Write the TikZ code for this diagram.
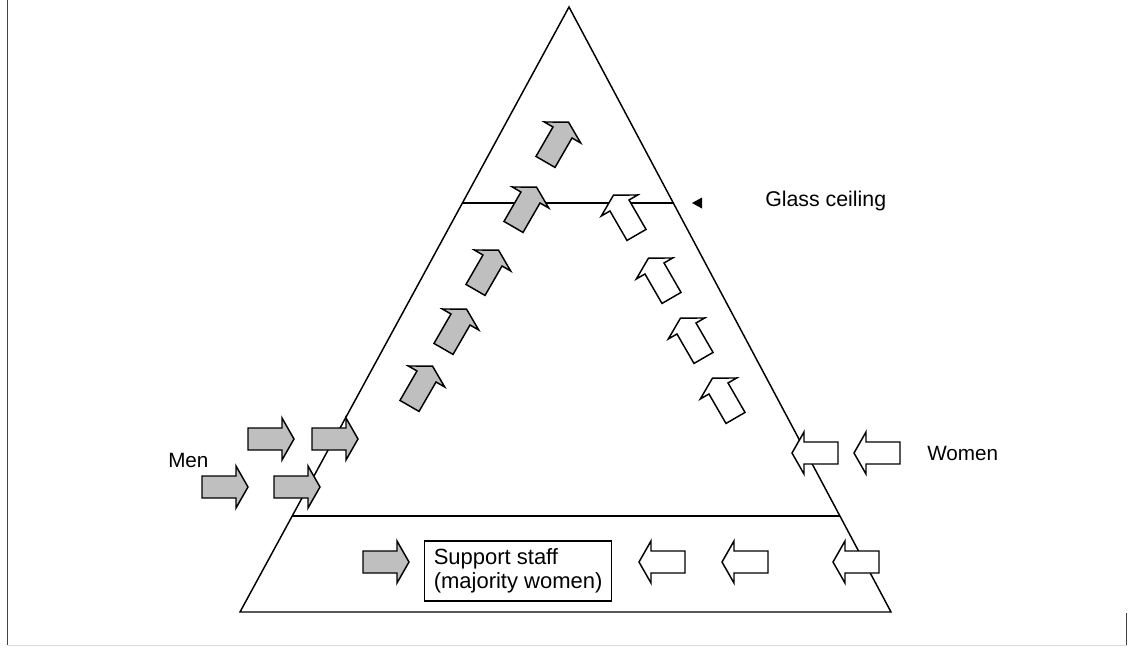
\documentclass[tikz,border=0pt]{standalone}
\usepackage{fontspec}
\setmainfont{Liberation Sans}
\begin{document}
\begin{tikzpicture}[x=0.75pt,y=-0.75pt,
  edge/.style={line width=1.1pt,black},
  lbl/.style={font=\fontsize{15.5}{18.5}\selectfont,inner sep=0pt},
  barrow/.pic={\path[pic actions] (-23,-11) -- (11,-11) -- (11,-21) -- (23,0) -- (11,21) -- (11,11) -- (-23,11) -- cycle;},
  men/.style={draw=black,line width=1.1pt,fill=black!25,line join=miter},
  women/.style={draw=black,line width=1.1pt,fill=white,line join=miter}]
\useasboundingbox (0,0) rectangle (1128,647);
% frame remnants
\draw[line width=1.1pt,black!75] (7.5,0) -- (7.5,645);
\draw[line width=1.1pt,black!75] (1126.5,613) -- (1126.5,645);
\draw[line width=0.8pt,black!15] (7.5,645.5) -- (1126.5,645.5);
% pyramid
\coordinate (apex) at (569,7);
\coordinate (bl) at (240,612);
\coordinate (br) at (891,612);
\coordinate (gl) at (462,203);
\coordinate (gr) at (673,203);
\coordinate (sl) at (292,516);
\coordinate (sr) at (840,516);
\draw[edge,line join=miter] (apex) -- (bl) -- (br) -- cycle;
\draw[edge] (gl) -- (gr);
\draw[edge] (sl) -- (sr);
% glass ceiling marker and label
\fill (692,203) -- (702,197.5) -- (702,208.5) -- cycle;
\node[lbl,font=\fontsize{16}{19}\selectfont,anchor=west] (glass) at (765,201) {Glass ceiling};
\node[lbl,anchor=west] (menlbl) at (168,460) {Men};
\node[lbl,anchor=west] (womenlbl) at (927,453) {Women};
% support staff box
\node[draw,line width=0.9pt,align=left,font=\fontsize{16.5}{18}\selectfont,inner sep=0pt,minimum width=187*0.75pt,minimum height=60*0.75pt,anchor=west] (support) at (424,571) {Support staff\\(majority women)};
% men arrows (horizontal)
\pic[men] at (271,439) {barrow};
\pic[men] at (335,439) {barrow};
\pic[men] at (225,487) {barrow};
\pic[men] at (297,487) {barrow};
\pic[men] at (386,562) {barrow};
% men arrows (diagonal)
\pic[men,rotate=60] at (421,386) {barrow};
\pic[men,rotate=60] at (455,329) {barrow};
\pic[men,rotate=60] at (487,270) {barrow};
\pic[men,rotate=60] at (525,207) {barrow};
\pic[men,rotate=60] at (557,142) {barrow};
% women arrows (horizontal)
\pic[women,rotate=180] at (815,453) {barrow};
\pic[women,rotate=180] at (877,453) {barrow};
\pic[women,rotate=180] at (662,562) {barrow};
\pic[women,rotate=180] at (745,562) {barrow};
\pic[women,rotate=180] at (856,562) {barrow};
% women arrows (diagonal)
\pic[women,rotate=120] at (625,215) {barrow};
\pic[women,rotate=120] at (660,278) {barrow};
\pic[women,rotate=120] at (692,338) {barrow};
\pic[women,rotate=120] at (724,398) {barrow};
\end{tikzpicture}
\end{document}
